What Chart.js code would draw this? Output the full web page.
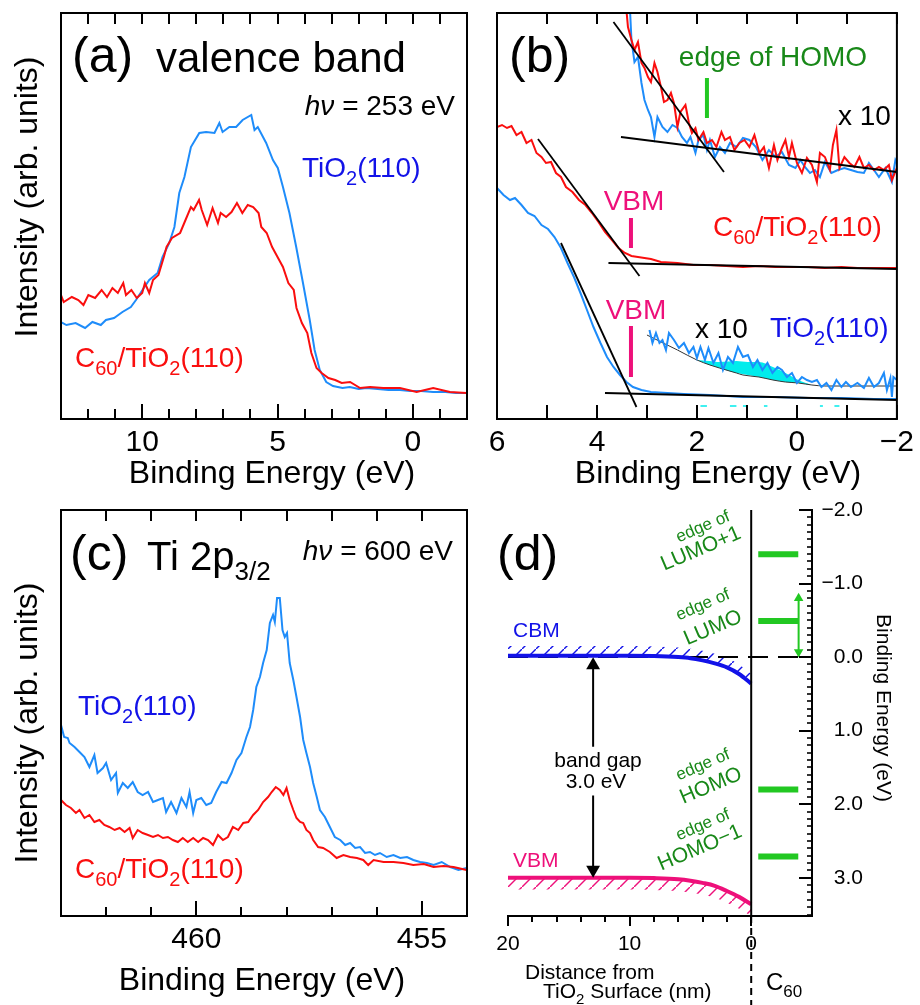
<!DOCTYPE html>
<html>
<head>
<meta charset="utf-8">
<script src="https://cdn.jsdelivr.net/npm/chart.js@4.4.0/dist/chart.umd.min.js"></script>
<style>
  body { margin: 0; background: #fff; }
  #fig { position: relative; width: 920px; height: 1005px; }
  canvas { position: absolute; }
</style>
</head>
<body>
<div id="fig">
  <canvas id="cA" width="480" height="495" style="left:0;top:0"></canvas>
  <canvas id="cB" width="440" height="495" style="left:480px;top:0"></canvas>
  <canvas id="cC" width="480" height="510" style="left:0;top:495px"></canvas>
  <canvas id="cD" width="440" height="510" style="left:480px;top:495px"></canvas>
</div>
<script>
// ---- (a) valence band, intensity in arb. units ----
const aBlueE = [13.0,12.8,12.46,12.11,11.84,11.53,11.34,11.04,10.73,10.42,10.23,9.99,9.74,9.43,9.25,9.0,8.81,8.63,8.44,8.2,7.89,7.64,7.33,7.15,7.03,6.78,6.53,6.29,5.97,5.85,5.73,5.42,5.17,4.99,4.8,4.56,4.31,4.06,3.81,3.63,3.44,3.2,2.95,2.6,2.33,2.0,1.72,1.3,0.9,0.48,0.1,-0.3,-0.75,-1.2,-1.6,-1.98];
const aBlueI = [97,94,96,91,97,94,99,101,107,112,119,129,139,146,162,176,192,226,242,272,286,287,286,296,287,292,292,299,304,289,292,276,259,251,232,206,172,136,99,69,49,37,33,31,32,30,31,30,29,29,28,28,27,27,26,26];
const aRedE = [13.0,12.9,12.6,12.36,12.17,11.99,11.74,11.5,11.3,11.1,10.9,10.7,10.6,10.4,10.2,10.0,9.9,9.74,9.6,9.4,9.2,9.1,8.9,8.6,8.4,8.2,8.1,7.9,7.8,7.6,7.4,7.2,7.1,6.9,6.7,6.5,6.3,6.1,5.9,5.7,5.6,5.4,5.2,5.0,4.8,4.6,4.4,4.3,4.1,3.9,3.75,3.56,3.37,3.12,2.87,2.63,2.32,1.95,1.58,1.09,0.48,-0.14,-0.75,-1.37,-1.98];
const aRedI = [124,117,122,119,114,124,121,129,122,131,126,136,124,129,121,126,136,126,139,144,162,172,181,186,199,212,209,219,209,194,211,196,206,202,207,216,206,214,212,206,192,186,172,162,152,136,129,111,96,86,66,51,46,41,39,36,37,31,32,31,31,27,31,27,26];

// ---- (b) close-up near the gap ----
const bRedE = [6.0,5.9,5.8,5.71,5.61,5.51,5.41,5.31,5.21,5.11,5.02,4.92,4.82,4.72,4.62,4.49,4.36,4.23,4.1,3.97,3.84,3.7,3.57,3.44,3.31,3.18,3.05,2.92,2.72,2.39,2.07,1.74,1.41,1.08,0.75,0.43,0.1,-0.23,-0.56,-0.89,-1.21,-1.54,-2.0];
const bRedI = [292,294,291,293,284,287,276,279,266,262,256,257,246,242,232,227,219,214,206,197,187,179,171,166,163,162,161,160,157,156,154,154,153,152,153,152,152,152,151,152,151,151,151];
const bBlueE = [6.0,5.87,5.74,5.64,5.51,5.38,5.25,5.11,4.98,4.85,4.72,4.59,4.46,4.33,4.2,4.07,3.93,3.8,3.67,3.54,3.41,3.28,3.11,2.92,2.59,2.26,1.74,1.08,0.43,-0.23,-0.89,-1.54,-2.0];
const bBlueI = [231,224,219,221,214,206,203,194,190,182,171,156,142,126,109,92,76,62,52,44,37,32,29,27,26,25,24,22,22,21,21,20,20];
const bRed10E = [3.45,3.38,3.31,3.25,3.18,3.11,3.05,2.98,2.92,2.85,2.79,2.72,2.66,2.59,2.52,2.46,2.39,2.33,2.23,2.16,2.1,2.03,1.97,1.87,1.8,1.7,1.61,1.51,1.44,1.34,1.25,1.15,1.05,0.95,0.85,0.75,0.66,0.56,0.46,0.39,0.3,0.23,0.16,0.1,0.0,-0.1,-0.2,-0.3,-0.4,-0.46,-0.56,-0.66,-0.72,-0.79,-0.85,-0.95,-1.05,-1.15,-1.25,-1.34,-1.44,-1.54,-1.64,-1.74,-1.84,-1.9,-2.0];
const bRed10I = [430,392,379,369,377,356,351,342,337,356,347,332,317,319,326,316,292,307,314,296,286,291,279,287,276,279,272,287,279,282,269,276,279,272,284,266,272,251,274,259,271,279,262,276,256,246,261,254,237,266,262,249,274,289,251,262,256,252,262,251,254,249,252,249,254,239,251];
const bBlue10E = [3.36,3.31,3.25,3.18,3.11,3.05,2.98,2.92,2.85,2.79,2.69,2.59,2.49,2.39,2.3,2.2,2.13,2.03,1.97,1.87,1.8,1.74,1.64,1.54,1.44,1.34,1.21,1.08,0.95,0.82,0.69,0.56,0.43,0.3,0.16,0.03,-0.07,-0.16,-0.26,-0.36,-0.46,-0.56,-0.69,-0.82,-0.95,-1.08,-1.21,-1.34,-1.44,-1.54,-1.64,-1.77,-1.9,-1.97,-2.0];
const bBlue10I = [430,379,357,362,336,319,309,302,282,302,292,287,294,291,282,276,282,266,279,284,269,279,262,272,266,276,272,281,279,272,259,269,262,267,254,251,259,252,246,249,242,257,246,249,251,249,247,246,256,249,242,251,237,259,256];
const bGapE = [2.95,2.89,2.82,2.75,2.69,2.62,2.56,2.46,2.36,2.26,2.16,2.07,2.0,1.93,1.84,1.77,1.67,1.57,1.48,1.38,1.28,1.18,1.08,0.98,0.88,0.79,0.69,0.59,0.49,0.39,0.3,0.2,0.1,0.0,-0.1,-0.2,-0.3,-0.4,-0.49,-0.59,-0.69,-0.79,-0.89,-0.98,-1.08,-1.21,-1.34,-1.44,-1.54,-1.64,-1.74,-1.8,-1.87,-1.9,-1.93,-2.0];
const bGapI = [89,76,86,76,79,69,86,79,71,76,66,72,61,72,59,71,56,66,49,62,56,72,62,64,52,59,49,56,46,52,49,42,46,36,42,39,37,39,32,36,29,39,32,37,32,36,31,41,32,36,46,29,41,22,42,39];
const bBgE = [3.0,2.39,2.0,1.74,1.55,1.21,1.08,0.76,0.48,0.23,-0.03,-0.3,-0.56,-1.0,-2.0];
const bBgI = [84,69,59,54,51,46,44,42,39,37,36,34,33,33,33];
const bCyanE = [2.0,1.75,1.55,1.21,0.98,0.76,0.48,0.23,-0.03,-0.3];
const bCyanTop = [59,58,57,58,57,57,52,46,39,34];
const bCyanBot = [59,54,51,46,44,42,39,37,36,34];
const bDotE = [1.93,1.8,1.8,1.34,1.21,1.21,1.08,0.98,0.98,0.66,0.59,0.59,-0.46,-0.52,-0.52,-0.75,-0.85];
const bDotI = [13,13,null,13,13,null,13,13,null,13,13,null,13,13,null,13,13];
// straight-line fits: [E start, E end], [I start, I end]
const bFits = [
  [[3.67, 1.46], [397, 247]],
  [[3.52, -2.0], [282, 247]],
  [[5.18, 3.15], [280, 143]],
  [[3.77, -2.0], [156, 150]],
  [[4.72, 3.21], [176, 12]],
  [[3.84, -2.0], [26, 19]]
];
const bHomoE = 1.8, bHomoI = [301, 341];
const bVbmE = 3.32, bVbmUpperI = [171, 201], bVbmLowerI = [42, 93];

// ---- (c) Ti 2p3/2 ----
const cBlueE = [463.0,462.93,462.85,462.81,462.7,462.59,462.48,462.37,462.26,462.19,462.07,462.0,461.89,461.78,461.74,461.63,461.52,461.41,461.3,461.19,461.07,460.96,460.85,460.74,460.67,460.56,460.44,460.33,460.22,460.15,460.07,460.0,459.89,459.78,459.67,459.56,459.44,459.33,459.22,459.11,459.0,458.89,458.81,458.74,458.67,458.59,458.52,458.44,458.37,458.3,458.26,458.21,458.15,458.09,458.04,457.99,457.93,457.85,457.78,457.7,457.63,457.56,457.48,457.41,457.33,457.26,457.15,457.04,456.93,456.81,456.7,456.59,456.48,456.37,456.26,456.15,456.04,455.93,455.78,455.63,455.48,455.33,455.19,455.04,454.89,454.74,454.56,454.37,454.19,454.01];
const cBlueI = [191,179,178,173,169,164,159,149,161,143,148,153,136,143,123,133,128,134,124,121,124,114,116,118,104,114,103,118,109,124,103,116,118,111,113,124,134,133,143,156,163,179,189,206,229,239,253,266,293,301,294,318,318,286,279,283,253,236,219,199,176,163,149,133,119,106,99,89,79,76,71,73,68,69,63,64,61,63,59,61,58,59,56,54,53,51,54,49,46,48];
const cRedE = [463.0,462.89,462.78,462.67,462.59,462.48,462.37,462.26,462.15,462.04,461.93,461.81,461.7,461.59,461.48,461.41,461.3,461.19,461.07,460.96,460.85,460.74,460.63,460.52,460.41,460.3,460.19,460.07,459.96,459.85,459.74,459.63,459.52,459.41,459.3,459.19,459.07,458.96,458.85,458.74,458.63,458.52,458.41,458.33,458.24,458.15,458.07,458.0,457.93,457.85,457.78,457.7,457.63,457.56,457.48,457.41,457.3,457.19,457.04,456.89,456.74,456.59,456.44,456.3,456.19,456.07,455.85,455.63,455.41,455.19,454.96,454.74,454.52,454.3,454.01];
const cRedI = [116,111,108,103,106,98,101,94,96,91,89,86,88,84,88,78,86,83,81,79,81,78,79,76,74,78,74,78,74,78,76,71,81,76,79,89,86,93,94,101,106,114,119,124,129,126,121,128,116,106,98,94,93,86,83,76,69,68,64,58,61,59,58,56,51,56,54,54,53,51,52,49,50,49,46];

// ---- (d) band diagram ----
const dBandX = [20, 10, 8, 6, 5, 4, 3, 2, 1, 0];
const dCbmY = [-0.02, -0.02, -0.015, 0.0, 0.015, 0.045, 0.085, 0.14, 0.23, 0.36];
const dCbmHatchY = [-0.15, -0.15, -0.145, -0.13, -0.115, -0.085, -0.045, 0.01, 0.1, 0.23];
const dVbmY = [3.0, 3.0, 3.005, 3.02, 3.04, 3.07, 3.11, 3.18, 3.26, 3.36];
const dVbmHatchY = [3.16, 3.16, 3.165, 3.18, 3.2, 3.23, 3.27, 3.34, 3.42, 3.52];
const dLevelNames = ['LUMO+1', 'LUMO', 'HOMO', 'HOMO\u22121'];
const dLevelY = [-1.40, -0.49, 1.80, 2.71];
const dLevelX = [-0.58, -3.87];
const dGapX = 13, dGapUpperY = [0.11, 1.22], dGapLowerY = [1.88, 2.89];
const dShiftX = -3.9, dShiftY = [-0.80, -0.07];

// tick values
const aMajor = [10, 5, 0], aMinor = [12, 11, 9, 8, 7, 6, 4, 3, 2, 1, -1];
const bMajor = [6, 4, 2, 0, -2], bMinor = [5, 3, 1, -1];
const cMajor = [460, 455], cMinor = [462, 461, 459, 458, 457, 456];
const dXMajor = [20, 10, 0], dXMinor = [18, 16, 14, 12, 8, 6, 4, 2];
const dYMajor = [-2, -1, 0, 1, 2, 3];

const FONT = "'Liberation Sans', Arial, Helvetica, sans-serif";
const RED = 'rgb(250,14,14)';
const BLUE = 'rgb(30,140,250)';
const BLUE_T = 'rgb(18,18,232)';
const PINK = 'rgb(238,16,122)';
const GREEN = 'rgb(34,200,34)';
const GREEN_T = 'rgb(24,136,24)';
const CYAN = 'rgb(0,236,236)';

Chart.defaults.font.family = FONT;
Chart.defaults.color = '#000';

function pts(xs, ys) { return xs.map((x, i) => ({x: x, y: ys[i]})); }
function line(xs, ys, color, width, extra) {
  return Object.assign({data: pts(xs, ys), borderColor: color, borderWidth: width, pointRadius: 0, fill: false}, extra || {});
}
function minus(v) { return String(v).replace('-', '\u2212'); }

// "TiO_{2}" -> subscript, "%{hv}" -> italic
function rich(s) {
  const out = [], re = /(_|%)\{([^}]*)\}/g;
  let last = 0, m;
  while ((m = re.exec(s))) {
    if (m.index > last) out.push({t: s.slice(last, m.index)});
    out.push({t: m[2], sub: m[1] === '_', it: m[1] === '%'});
    last = re.lastIndex;
  }
  if (last < s.length) out.push({t: s.slice(last)});
  return out;
}
function drawRich(ctx, t) {
  const size = t.size, parts = rich(t.s);
  const ss = t.subScale || 0.72;
  const font = p => (p.it ? 'italic ' : '') + (p.sub ? Math.round(size * ss) : size) + 'px ' + FONT;
  let w = 0;
  parts.forEach(p => { ctx.font = font(p); p.w = ctx.measureText(p.t).width; w += p.w; });
  ctx.save();
  ctx.translate(t.x, t.y);
  if (t.rot) ctx.rotate(t.rot * Math.PI / 180);
  ctx.fillStyle = t.color || '#000';
  ctx.textBaseline = t.base || 'alphabetic';
  ctx.textAlign = 'left';
  let x = t.align === 'center' ? -w / 2 : t.align === 'right' ? -w : 0;
  parts.forEach(p => {
    ctx.font = font(p);
    ctx.fillText(p.t, x, p.sub ? size * (t.subDy || 0.28) : 0);
    x += p.w;
  });
  ctx.restore();
}

// frame, inward/outward tick marks, texts
function deco(cfg) {
  return {
    id: 'deco',
    afterDraw(chart) {
      const ctx = chart.ctx, a = chart.chartArea;
      const xs = chart.scales.x, ys = chart.scales.y;
      ctx.save();
      ctx.strokeStyle = '#000';
      ctx.lineWidth = 2;
      (cfg.xTicks || []).forEach(t => {
        t.values.forEach(v => {
          const p = Math.round(xs.getPixelForValue(v));
          const y0 = t.side === 'top' ? a.top : a.bottom;
          const d = (t.side === 'top' ? 1 : -1) * (t.out ? -1 : 1) * t.len;
          ctx.beginPath(); ctx.moveTo(p, y0); ctx.lineTo(p, y0 + d); ctx.stroke();
        });
      });
      (cfg.yTicks || []).forEach(t => {
        ctx.lineWidth = t.width || 2;
        t.values.forEach(v => {
          const p = Math.round(ys.getPixelForValue(v));
          ctx.beginPath(); ctx.moveTo(a.right, p); ctx.lineTo(a.right - t.len, p); ctx.stroke();
        });
      });
      if (cfg.yLabels) {
        ctx.fillStyle = '#000';
        ctx.font = cfg.yLabels.size + 'px ' + FONT;
        ctx.textAlign = 'right';
        ctx.textBaseline = 'middle';
        cfg.yLabels.values.forEach(v => {
          ctx.fillText(minus(v.toFixed(1)), a.right + cfg.yLabels.dx, ys.getPixelForValue(v));
        });
      }
      ctx.lineWidth = 2;
      if (cfg.box) ctx.strokeRect(a.left, a.top, a.right - a.left, a.bottom - a.top);
      if (cfg.after) cfg.after(chart);
      (cfg.texts || []).forEach(t => drawRich(ctx, t));
      ctx.restore();
    }
  };
}

function makeChart(id, cfg, datasets) {
  const yScale = cfg.y || {display: false, min: 0, max: 406};
  return new Chart(document.getElementById(id), {
    type: 'line',
    data: {datasets: datasets},
    options: {
      responsive: false,
      animation: false,
      devicePixelRatio: 1,
      events: [],
      layout: {padding: cfg.pad},
      plugins: {legend: {display: false}, tooltip: {enabled: false}},
      scales: {
        x: {
          type: 'linear', reverse: true, min: cfg.xmin, max: cfg.xmax,
          grid: {display: false, drawTicks: false},
          border: {display: !!cfg.xBorder, color: '#000', width: 2},
          afterBuildTicks: s => { s.ticks = cfg.xLabels.map(v => ({value: v})); },
          afterFit: s => { s.height = cfg.xH; },
          ticks: {font: {size: cfg.tickSize}, color: '#000', padding: cfg.tickPad,
                  maxRotation: 0, autoSkip: false, callback: v => minus(v)}
        },
        y: yScale
      }
    },
    plugins: [deco(cfg)]
  });
}

function hatch(color) {
  const c = document.createElement('canvas');
  c.width = 14; c.height = 14;
  const g = c.getContext('2d');
  g.strokeStyle = color; g.lineWidth = 1.4;
  g.beginPath(); g.moveTo(-2, 16); g.lineTo(16, -2); g.stroke();
  return g.createPattern(c, 'repeat');
}

// ---------- panel (a) ----------
makeChart('cA', {
  pad: {left: 61, top: 13, right: 13, bottom: 16}, xH: 60,
  xmin: -2, xmax: 13, xLabels: aMajor, tickSize: 30, tickPad: 6,
  box: true,
  xTicks: [
    {side: 'bottom', values: aMajor, len: 15},
    {side: 'bottom', values: aMinor, len: 10},
    {side: 'top', values: aMajor.concat(aMinor), len: 11}
  ],
  texts: [
    {s: '(a)', x: 72, y: 72, size: 50},
    {s: 'valence band', x: 156, y: 72, size: 42},
    {s: '%{h\u03bd} = 253 eV', x: 455, y: 115, size: 28, align: 'right'},
    {s: 'TiO_{2}(110)', x: 302, y: 177, size: 28, color: BLUE_T},
    {s: 'C_{60}/TiO_{2}(110)', x: 75, y: 367, size: 28, color: RED},
    {s: 'Binding Energy (eV)', x: 272, y: 483, size: 32, align: 'center'},
    {s: 'Intensity (arb. units)', x: 37, y: 197, size: 32, align: 'center', rot: -90}
  ]
}, [
  line(aRedE, aRedI, RED, 2),
  line(aBlueE, aBlueI, BLUE, 2)
]);

// ---------- panel (b) ----------
const bSets = bFits.map(f => line(f[0], f[1], '#000', 1.8));
bSets.push(line([bHomoE, bHomoE], bHomoI, GREEN, 4));
bSets.push(line([bVbmE, bVbmE], bVbmUpperI, PINK, 4));
bSets.push(line([bVbmE, bVbmE], bVbmLowerI, PINK, 4));
bSets.push(line(bRed10E, bRed10I, RED, 2));
bSets.push(line(bBlue10E, bBlue10I, BLUE, 2));
bSets.push(line(bRedE, bRedI, RED, 2));
bSets.push(line(bBlueE, bBlueI, BLUE, 2));
bSets.push(line(bGapE, bGapI, BLUE, 2));
bSets.push(line(bBgE, bBgI, '#333', 1, {cubicInterpolationMode: 'monotone'}));
bSets.push(line(bCyanE, bCyanTop, 'rgba(0,0,0,0)', 0, {fill: '+1', backgroundColor: CYAN, cubicInterpolationMode: 'monotone'}));
bSets.push(line(bCyanE, bCyanBot, 'rgba(0,0,0,0)', 0, {cubicInterpolationMode: 'monotone'}));
bSets.push(line(bDotE, bDotI, CYAN, 1.5));

makeChart('cB', {
  pad: {left: 17, top: 13, right: 17, bottom: 16}, xH: 60,
  xmin: -2, xmax: 6, xLabels: bMajor, tickSize: 30, tickPad: 6,
  box: true,
  xTicks: [
    {side: 'bottom', values: bMajor, len: 14},
    {side: 'bottom', values: bMinor, len: 14},
    {side: 'top', values: bMajor.concat(bMinor), len: 11}
  ],
  texts: [
    {s: '(b)', x: 29, y: 72, size: 50},
    {s: 'edge of HOMO', x: 293, y: 66, size: 28, align: 'center', color: GREEN_T},
    {s: 'x 10', x: 358, y: 125, size: 28},
    {s: 'VBM', x: 154, y: 210, size: 28, align: 'center', color: PINK},
    {s: 'C_{60}/TiO_{2}(110)', x: 233, y: 236, size: 28, color: RED},
    {s: 'VBM', x: 156, y: 319, size: 28, align: 'center', color: PINK},
    {s: 'x 10', x: 215, y: 338, size: 28},
    {s: 'TiO_{2}(110)', x: 290, y: 337, size: 28, color: BLUE_T},
    {s: 'Binding Energy (eV)', x: 238, y: 483, size: 32, align: 'center'}
  ]
}, bSets);

// ---------- panel (c) ----------
makeChart('cC', {
  pad: {left: 61, top: 15, right: 13, bottom: 29}, xH: 60,
  xmin: 454, xmax: 463, xLabels: cMajor, tickSize: 30, tickPad: 6,
  box: true,
  xTicks: [
    {side: 'bottom', values: cMajor, len: 15},
    {side: 'bottom', values: cMinor, len: 9},
    {side: 'top', values: cMajor.concat(cMinor), len: 11}
  ],
  texts: [
    {s: '(c)', x: 70, y: 75, size: 50},
    {s: 'Ti 2p_{3/2}', x: 147, y: 75, size: 40, subScale: 0.65, subDy: 0.25},
    {s: '%{h\u03bd} = 600 eV', x: 453, y: 65, size: 28, align: 'right'},
    {s: 'TiO_{2}(110)', x: 78, y: 220, size: 28, color: BLUE_T},
    {s: 'C_{60}/TiO_{2}(110)', x: 75, y: 383, size: 28, color: RED},
    {s: 'Binding Energy (eV)', x: 262, y: 495, size: 32, align: 'center'},
    {s: 'Intensity (arb. units)', x: 37, y: 228, size: 32, align: 'center', rot: -90}
  ]
}, [
  line(cRedE, cRedI, RED, 2),
  line(cBlueE, cBlueI, BLUE, 2)
]);

// ---------- panel (d) ----------
const dYMinor = [];
for (let k = -20; k <= 35; k++) if (k % 10 !== 0) dYMinor.push(k / 10);

const dSets = [
  line([dGapX, dGapX], dGapUpperY, '#000', 2, {pointStyle: 'triangle', pointRadius: [8, 0], pointBackgroundColor: '#000', pointBorderWidth: 0}),
  line([dGapX, dGapX], dGapLowerY, '#000', 2, {pointStyle: 'triangle', pointRadius: [0, 8], pointRotation: [0, 180], pointBackgroundColor: '#000', pointBorderWidth: 0}),
  line([dShiftX, dShiftX], dShiftY, GREEN, 2, {pointStyle: 'triangle', pointRadius: 5.5, pointRotation: [0, 180], pointBackgroundColor: GREEN, pointBorderWidth: 0})
];
dLevelY.forEach(v => dSets.push(line(dLevelX, [v, v], GREEN, 6)));
const dCbmIndex = dSets.length + 1;
dSets.push(line([0, 0], [-2, 3.52], '#000', 2));
dSets.push(line(dBandX, dCbmY, BLUE_T, 4, {cubicInterpolationMode: 'monotone'}));
dSets.push(line(dBandX, dVbmY, PINK, 4, {cubicInterpolationMode: 'monotone'}));
dSets.push(line([20, -5], [0, 0], '#000', 2, {borderDash: [20, 10]}));
dSets.push(line(dBandX, dCbmHatchY, 'rgba(0,0,0,0)', 0, {fill: dCbmIndex, backgroundColor: hatch(BLUE_T), cubicInterpolationMode: 'monotone'}));
dSets.push(line(dBandX, dVbmHatchY, 'rgba(0,0,0,0)', 0, {fill: dCbmIndex + 1, backgroundColor: hatch(PINK), cubicInterpolationMode: 'monotone'}));

const dTexts = [
  {s: '(d)', x: 17, y: 75, size: 50},
  {s: 'CBM', x: 33, y: 142, size: 21, color: BLUE_T},
  {s: 'VBM', x: 33, y: 372, size: 21, color: PINK},
  {s: 'band gap', x: 118, y: 272, size: 21, align: 'center'},
  {s: '3.0 eV', x: 116, y: 293, size: 21, align: 'center'},
  {s: 'Distance from', x: 45, y: 484, size: 21},
  {s: 'TiO_{2} Surface (nm)', x: 63, y: 503, size: 21},
  {s: 'C_{60}', x: 286, y: 495, size: 24},
  {s: 'Binding Energy (eV)', x: 397, y: 213, size: 21, align: 'center', rot: 90}
];
const dLabelPos = [[223, 32, 221, 54], [223, 110, 233, 133], [223, 270, 231, 291], [223, 330, 220, 353]];
dLevelNames.forEach((n, i) => {
  const p = dLabelPos[i];
  dTexts.push({s: 'edge of', x: p[0], y: p[1], size: 17, align: 'center', base: 'middle', rot: -23, color: GREEN_T});
  dTexts.push({s: n, x: p[2], y: p[3], size: 21, align: 'center', base: 'middle', rot: -23, color: GREEN_T});
});

makeChart('cD', {
  pad: {left: 28, top: 15, right: 22, bottom: 29}, xH: 60,
  xmin: -5, xmax: 20, xLabels: dXMajor, tickSize: 21, tickPad: 16,
  xBorder: true,
  y: {
    position: 'right', reverse: true, min: -2, max: 3.52,
    grid: {display: false, drawTicks: false},
    border: {display: true, color: '#000', width: 2},
    afterFit: s => { s.width = 86; },
    ticks: {display: false}
  },
  yLabels: {values: dYMajor, size: 21, dx: 51},
  xTicks: [
    {side: 'bottom', values: dXMajor, len: 10, out: true},
    {side: 'bottom', values: dXMinor, len: 6, out: true}
  ],
  yTicks: [
    {values: dYMajor, len: 13, width: 2},
    {values: dYMinor, len: 5, width: 1.6}
  ],
  after: chart => {
    const ctx = chart.ctx, p = chart.scales.x.getPixelForValue(0);
    ctx.save();
    ctx.setLineDash([7, 5]); ctx.lineWidth = 2; ctx.strokeStyle = '#000';
    ctx.beginPath(); ctx.moveTo(p, chart.chartArea.bottom); ctx.lineTo(p, chart.height); ctx.stroke();
    ctx.restore();
  },
  texts: dTexts
}, dSets);
</script>
</body>
</html>
